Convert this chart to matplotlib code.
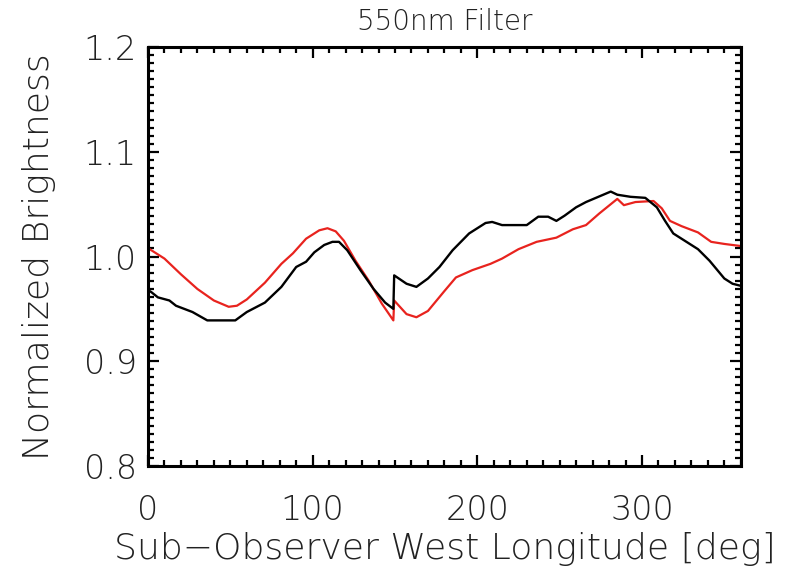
import numpy as np
import matplotlib
matplotlib.use("Agg")
import matplotlib.pyplot as plt
from matplotlib.ticker import MultipleLocator, FixedLocator

# longitude / brightness
lon_black = [0, 2, 6, 13, 17, 27, 36, 53, 60, 71, 81, 90, 96, 101, 107, 112, 116, 121, 129, 137, 144, 149,
             149.5, 157, 163, 170, 177, 185, 195, 205, 209, 215, 230, 237, 243, 248, 253, 260, 266, 272,
             281, 285, 293, 302, 309, 314, 319, 327, 334, 341, 350, 355, 360]
bright_black = [0.968, 0.966, 0.961, 0.958, 0.953, 0.947, 0.939, 0.939, 0.947, 0.956, 0.971, 0.990, 0.995,
                1.004, 1.011, 1.014, 1.014, 1.006, 0.987, 0.969, 0.956, 0.950,
                0.982, 0.974, 0.971, 0.979, 0.990, 1.006, 1.022, 1.032, 1.033, 1.030, 1.030, 1.038,
                1.038, 1.034, 1.039, 1.047, 1.052, 1.056, 1.062, 1.059, 1.057, 1.056, 1.047, 1.034,
                1.022, 1.014, 1.007, 0.996, 0.979, 0.974, 0.972]

lon_red = [0, 2, 10, 20, 30, 40, 49, 54, 60, 71, 81, 88, 96, 104, 109, 114, 119, 126, 134, 142, 149,
           149.5, 157, 163, 170, 180, 187, 197, 208, 215, 225, 236, 248, 258, 266, 274, 285, 289, 296,
           307, 312, 317, 324, 334, 342, 350, 360]
bright_red = [1.008, 1.006, 0.998, 0.983, 0.969, 0.958, 0.952, 0.953, 0.959, 0.975, 0.993, 1.003, 1.017,
              1.025, 1.027, 1.024, 1.015, 0.996, 0.977, 0.955, 0.939,
              0.958, 0.945, 0.942, 0.948, 0.967, 0.980, 0.987, 0.993, 0.998, 1.007, 1.014, 1.018,
              1.026, 1.030, 1.041, 1.055, 1.049, 1.052, 1.053, 1.046, 1.034, 1.029, 1.023, 1.014,
              1.012, 1.010]

plt.rcParams["font.family"] = ["DejaVu Sans"]
plt.rcParams["font.weight"] = "light"
plt.rcParams["axes.titleweight"] = "light"
plt.rcParams["axes.labelweight"] = "light"
plt.rcParams["text.color"] = "#222222"

fig = plt.figure(figsize=(7.94, 5.77), dpi=100)
ax = fig.add_axes([0.1864, 0.1924, 0.7466, 0.7261])

ax.plot(lon_red, bright_red, color="#e8231e", lw=1.6)
ax.plot(lon_black, bright_black, color="black", lw=1.7)

ax.set_xlim(0, 360)
ax.set_ylim(0.8, 1.2)
ax.xaxis.set_major_locator(MultipleLocator(100))
ax.xaxis.set_minor_locator(MultipleLocator(10))
ax.yaxis.set_major_locator(MultipleLocator(0.1))
ax.yaxis.set_minor_locator(FixedLocator(np.linspace(0.8, 1.2, 53)))
ax.yaxis.set_major_formatter(plt.FormatStrFormatter("%.1f"))

for s in ax.spines.values():
    s.set_linewidth(2.2)
ax.tick_params(which="both", direction="in", top=True, right=True, width=1.6,
               labelsize=24, labelcolor="#222222")
ax.tick_params(which="major", length=8)
ax.tick_params(which="minor", length=4)
ax.tick_params(axis="x", pad=20)
ax.tick_params(axis="y", pad=8)

ax.set_title("550nm Filter", fontsize=20, pad=12, color="#222222")
ax.set_xlabel("Sub\u2212Observer West Longitude [deg]", fontsize=26, labelpad=4, color="#222222")
ax.set_ylabel("Normalized Brightness", fontsize=26, labelpad=20, color="#222222")

fig.savefig("out.png", dpi=100)
